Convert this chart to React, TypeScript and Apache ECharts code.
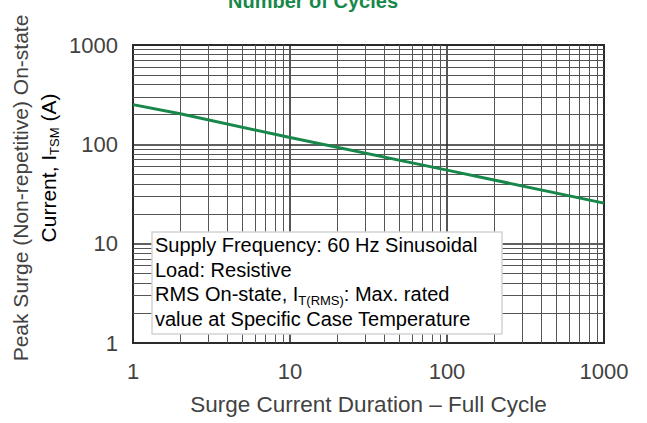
import React, { useEffect, useRef } from 'react';
import * as echarts from 'echarts';

// Data
const durations = [1, 2, 10, 100, 1000];
const peakCurrent = [251, 203, 117, 55, 25.6];
const xTickLabels = ['1', '10', '100', '1000'];
const yTickLabels = ['1', '10', '100', '1000'];
const decades = [1, 10, 100];
const minorMultipliers = [2, 3, 4, 5, 6, 7, 8, 9];

const chartTitle = 'Number of Cycles';
const xName = 'Surge Current Duration – Full Cycle';
const yNameLine1 = 'Peak Surge (Non-repetitive) On-state';
const yNameLine2 = '{a|Current, I}{s|TSM}{a| (A)}';
const noteLines = [
  '{a|Supply Frequency: 60 Hz Sinusoidal}',
  '{a|Load: Resistive}',
  '{a|RMS On-state, I}{s|T(RMS)}{a|: Max. rated}',
  '{a|value at Specific Case Temperature}',
];

const FONT = '"Liberation Sans", Arial, Helvetica, sans-serif';
const TEXT = '#424242';
const GREEN = '#17884a';

export default function App() {
  const ref = useRef<HTMLDivElement>(null);

  useEffect(() => {
    if (!ref.current) return;
    const chart = echarts.init(ref.current, undefined, { renderer: 'svg' });

    const minorValues: number[] = [];
    decades.forEach((d) => minorMultipliers.forEach((m) => minorValues.push(d * m)));

    const richMain = (size: number) => ({
      a: { fontSize: size, fontFamily: FONT, color: TEXT },
      s: { fontSize: 13, fontFamily: FONT, color: TEXT, padding: [12, 0, 0, 0] },
    });

    const option: any = {
      animation: false,
      backgroundColor: '#ffffff',
      grid: {
        left: 133,
        right: 43,
        top: 45,
        bottom: 80,
        show: true,
        borderColor: '#2b2b2b',
        borderWidth: 2,
        containLabel: false,
      },
      xAxis: {
        type: 'log',
        logBase: 10,
        min: 1,
        max: 1000,
        name: xName,
        nameLocation: 'middle',
        nameGap: 50,
        nameTextStyle: { fontSize: 22.5, fontFamily: FONT, color: TEXT },
        axisLine: { show: true, lineStyle: { color: '#2b2b2b', width: 2 } },
        axisTick: { show: false },
        axisLabel: {
          margin: 17,
          fontSize: 22,
          fontFamily: FONT,
          color: TEXT,
          formatter: (v: number) => xTickLabels[Math.round(Math.log10(v))] ?? '',
        },
        splitLine: { show: true, lineStyle: { color: '#2b2b2b', width: 1.6 } },
      },
      yAxis: {
        type: 'log',
        logBase: 10,
        min: 1,
        max: 1000,
        axisLine: { show: true, lineStyle: { color: '#2b2b2b', width: 2 } },
        axisTick: { show: false },
        axisLabel: {
          margin: 15,
          fontSize: 22,
          fontFamily: FONT,
          color: TEXT,
          formatter: (v: number) => yTickLabels[Math.round(Math.log10(v))] ?? '',
        },
        splitLine: { show: true, lineStyle: { color: '#2b2b2b', width: 1.6 } },
      },
      series: [
        {
          type: 'line',
          data: [],
          z: 1,
          silent: true,
          markLine: {
            silent: true,
            symbol: ['none', 'none'],
            label: { show: false },
            lineStyle: { type: 'solid', color: '#555555', width: 1 },
            data: [
              ...minorValues.map((v) => ({ xAxis: v })),
              ...minorValues.map((v) => ({ yAxis: v })),
            ],
          },
        },
        {
          type: 'line',
          z: 5,
          data: durations.map((d, i) => [d, peakCurrent[i]]),
          showSymbol: false,
          symbol: 'none',
          lineStyle: { color: GREEN, width: 3 },
        },
      ],
      graphic: [
        {
          type: 'text',
          x: 313,
          y: 1,
          z: 100,
          style: {
            text: chartTitle,
            fontSize: 20,
            fontWeight: 'bold',
            fontFamily: FONT,
            fill: GREEN,
            align: 'center',
            verticalAlign: 'middle',
          },
        },
        {
          type: 'text',
          x: 20,
          y: 188,
          rotation: Math.PI / 2,
          z: 100,
          style: {
            text: yNameLine1,
            fontSize: 21,
            fontFamily: FONT,
            fill: TEXT,
            align: 'center',
            verticalAlign: 'middle',
          },
        },
        {
          type: 'text',
          x: 48,
          y: 168,
          rotation: Math.PI / 2,
          z: 100,
          style: {
            text: yNameLine2,
            rich: richMain(21),
            align: 'center',
            verticalAlign: 'middle',
          },
        },
        {
          type: 'rect',
          z: 100,
          shape: { x: 152, y: 232, width: 350, height: 102 },
          style: { fill: '#ffffff', stroke: '#d4d4d4', lineWidth: 1.5 },
        },
        ...noteLines.map((t, i) => ({
          type: 'text',
          z: 101,
          x: 155,
          y: 245 + i * 24.6,
          style: {
            text: t,
            rich: richMain(20),
            align: 'left',
            verticalAlign: 'middle',
          },
        })),
      ],
    };

    chart.setOption(option);
    return () => chart.dispose();
  }, []);

  return (
    <div
      ref={ref}
      style={{ position: 'fixed', left: 0, top: 0, width: 647, height: 423, background: '#fff' }}
    />
  );
}
